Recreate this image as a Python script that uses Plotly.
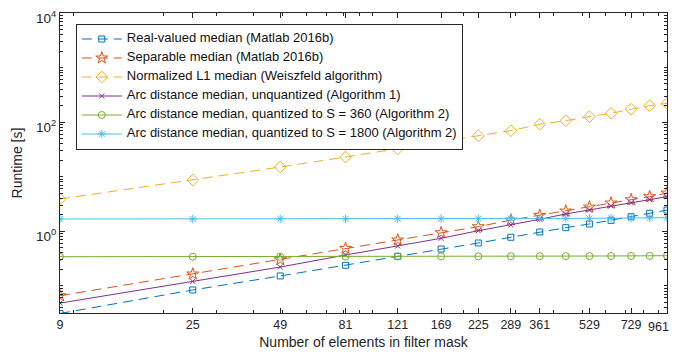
import math
import plotly.graph_objects as go

x_vals = [9, 25, 49, 81, 121, 169, 225, 289, 361, 441, 529, 625, 729, 841, 961]
x_tick_vals = [9, 25, 49, 81, 121, 169, 225, 289, 361, 529, 729, 961]

real_valued = [0.031, 0.0836, 0.151, 0.237, 0.347, 0.471, 0.607, 0.773, 0.966, 1.16, 1.355, 1.58, 1.84, 2.13, 2.44]
separable = [0.0656, 0.164, 0.30, 0.485, 0.689, 0.938, 1.21, 1.60, 1.95, 2.34, 2.77, 3.28, 3.78, 4.29, 5.0]
normalized_l1 = [3.89, 8.67, 15.0, 22.9, 32.1, 43.7, 56.3, 69.5, 91.2, 106, 126, 145, 172, 200, 221]
arc_unquant = [0.048, 0.12, 0.22, 0.366, 0.535, 0.74, 1.02, 1.30, 1.65, 2.07, 2.44, 2.9, 3.33, 3.78, 4.29]
arc_s360 = [0.34, 0.34, 0.34, 0.342, 0.344, 0.345, 0.346, 0.347, 0.348, 0.349, 0.35, 0.351, 0.352, 0.353, 0.355]
arc_s1800 = [1.67, 1.67, 1.68, 1.68, 1.69, 1.69, 1.70, 1.70, 1.71, 1.71, 1.72, 1.73, 1.74, 1.75, 1.77]

series = [
    ("Real-valued median (Matlab 2016b)", real_valued, "#0072BD", "dash", "square-open", 6),
    ("Separable median (Matlab 2016b)", separable, "#D95319", "dash", "star-open", 9),
    ("Normalized L1 median (Weiszfeld algorithm)", normalized_l1, "#EDB120", "dash", "diamond-open", 9),
    ("Arc distance median, unquantized (Algorithm 1)", arc_unquant, "#7E2F8E", "solid", "x-thin-open", 5),
    ("Arc distance median, quantized to S = 360 (Algorithm 2)", arc_s360, "#77AC30", "solid", "circle-open", 7),
    ("Arc distance median, quantized to S = 1800 (Algorithm 2)", arc_s1800, "#4DBEEE", "solid", "asterisk-open", 7),
]

fig = go.Figure()
for name, yv, color, dash, sym, size in series:
    fig.add_trace(go.Scatter(
        x=x_vals, y=yv, name='<span style="font-size:13px">' + name + '</span>',
        mode="lines+markers",
        line=dict(color=color, width=1, dash="10px,6px" if dash == "dash" else "solid"),
        marker=dict(symbol=sym, size=size, color=color, line=dict(color=color, width=1)),
    ))

x_minor = [10, 20, 30, 40, 50, 60, 70, 80, 90, 100, 200, 300, 400, 500, 600, 700, 800, 900]
y_minor = []
for k in range(-2, 4):
    for m in range(1, 10):
        v = m * 10 ** k
        if 0.0316 <= v <= 10000 and v not in (1, 100, 10000):
            y_minor.append(v)

# last x tick label is drawn right-aligned so it stays inside the page
x_tick_text = [str(v) for v in x_tick_vals[:-1]] + [""]
last_tick = x_tick_vals[-1]

axis_color = "#262626"
# page body has an 8px default margin; figure is sized so the plot area lands at x 60-667, y 13-313
fig.update_layout(
    width=669, height=342,
    margin=dict(l=52, r=10, t=5, b=37, autoexpand=False),
    paper_bgcolor="white", plot_bgcolor="white",
    font=dict(family="Liberation Sans, Arial, sans-serif", size=13, color=axis_color),
    showlegend=True,
    legend=dict(
        x=0.026, y=0.965, xanchor="left", yanchor="top",
        bordercolor=axis_color, borderwidth=1, bgcolor="white",
        font=dict(size=8.5, color="#111111"),
        tracegroupgap=0, itemwidth=40,
    ),
    xaxis=dict(
        type="log", range=[0.9542, 2.98276], automargin=False,
        tickmode="array", tickvals=x_tick_vals, ticktext=x_tick_text,
        ticks="inside", ticklen=5, tickcolor=axis_color, tickwidth=1,
        ticklabeloverflow="allow",
        showline=True, linecolor=axis_color, linewidth=1, mirror="allticks",
        showgrid=False, zeroline=False,
        tickfont=dict(size=12.5),
        title=dict(text="Number of elements in filter mask", font=dict(size=14), standoff=6),
        minor=dict(tickmode="array", tickvals=x_minor, ticks="inside", ticklen=3,
                   tickcolor=axis_color, showgrid=False),
    ),
    yaxis=dict(
        type="log", range=[-1.5, 4], automargin=False,
        tickmode="array", tickvals=[1, 100, 10000],
        ticktext=["10<sup>0</sup>", "10<sup>2</sup>", "10<sup>4</sup>"],
        ticks="inside", ticklen=5, tickcolor=axis_color, tickwidth=1,
        ticklabeloverflow="allow", ticklabelshift=5,
        showline=True, linecolor=axis_color, linewidth=1, mirror="allticks",
        showgrid=False, zeroline=False,
        tickfont=dict(size=13.5),
        title=dict(text="Runtime [s]", font=dict(size=14), standoff=10),
        minor=dict(tickmode="array", tickvals=y_minor, ticks="inside", ticklen=3,
                   tickcolor=axis_color, showgrid=False),
    ),
    annotations=[dict(
        x=math.log10(last_tick), xref="x", y=0, yref="paper",
        text=str(last_tick), showarrow=False,
        xanchor="right", yanchor="middle", xshift=4, yshift=-14,
        font=dict(size=12.5, color=axis_color),
    )],
)

fig.write_html("out.html")
